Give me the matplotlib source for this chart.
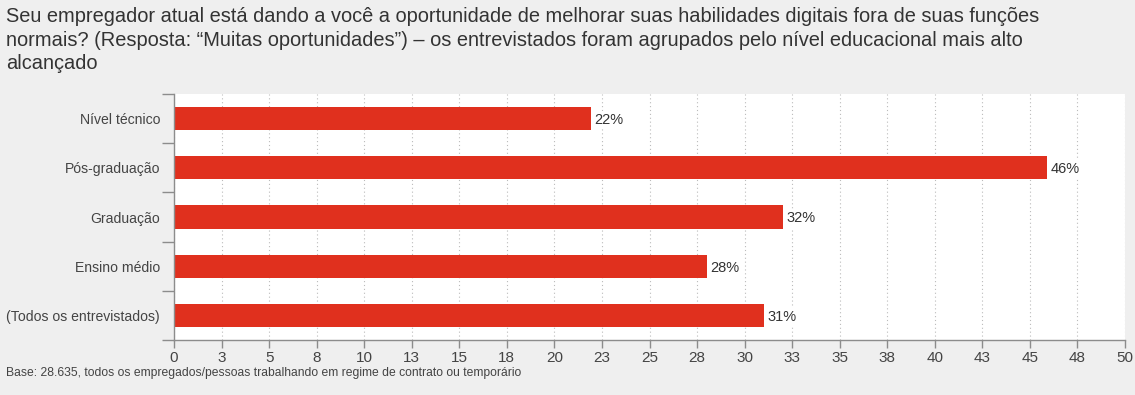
import matplotlib.pyplot as plt
from matplotlib.ticker import FixedLocator, FuncFormatter
import numpy as np

plt.rcParams['font.family'] = ['Liberation Sans', 'DejaVu Sans']

categories = ["Nível técnico", "Pós-graduação", "Graduação", "Ensino médio", "(Todos os entrevistados)"]
values = [21.9, 45.9, 32.0, 28.0, 31.0]
labels = ["22%", "46%", "32%", "28%", "31%"]
xticks = np.arange(0, 50.1, 2.5)

title = ("Seu empregador atual está dando a você a oportunidade de melhorar suas habilidades digitais fora de suas funções\n"
         "normais? (Resposta: “Muitas oportunidades”) – os entrevistados foram agrupados pelo nível educacional mais alto\n"
         "alcançado")
footer = "Base: 28.635, todos os empregados/pessoas trabalhando em regime de contrato ou temporário"

bg = "#efefef"
red = "#e0301e"
grey = "#8c8c8c"

fig = plt.figure(figsize=(11.35, 3.95), dpi=100, facecolor=bg)
ax = fig.add_axes([174 / 1135, 1 - 340 / 395, (1125 - 174) / 1135, (340 - 94) / 395])
ax.set_facecolor("white")

y = np.arange(len(categories))
ax.barh(y, values, height=0.47, color=red, zorder=2)
ax.set_ylim(len(categories) - 0.5, -0.5)
ax.set_xlim(0, 50)

for yi, v, lab in zip(y, values, labels):
    ax.text(v + 0.2, yi + 0.03, lab, va="center", ha="left", fontsize=10.5, color="#333333",
            bbox=dict(facecolor="white", edgecolor="none", pad=1.5), zorder=3)

ax.xaxis.set_major_locator(FixedLocator(xticks))
ax.xaxis.set_major_formatter(FuncFormatter(lambda x, p: "%d" % int(np.floor(x + 0.5))))
ax.grid(axis="x", color="#bbbbbb", linestyle=(0, (1, 2.5)), linewidth=0.8, zorder=1)

ax.set_yticks(y)
ax.set_yticklabels(categories)
ax.yaxis.set_minor_locator(FixedLocator(np.arange(-0.5, len(categories), 1)))
ax.tick_params(axis="y", which="major", length=0, pad=10, labelsize=10.1, labelcolor="#444444")
ax.tick_params(axis="y", which="minor", length=9, width=1, color=grey, direction="out")
ax.tick_params(axis="x", length=6, width=1, color=grey, labelsize=11, labelcolor="#444444", pad=2)

for s in ["top", "right"]:
    ax.spines[s].set_visible(False)
for s in ["left", "bottom"]:
    ax.spines[s].set_color(grey)
    ax.spines[s].set_linewidth(1)

fig.text(6 / 1135, 1 - 7 / 395, title, ha="left", va="top", fontsize=14.4, color="#333333", linespacing=1.3)
fig.text(6 / 1135, 1 - 373 / 395, footer, ha="left", va="center", fontsize=8.7, color="#444444")

fig.savefig("out.png", dpi=100, facecolor=bg)
